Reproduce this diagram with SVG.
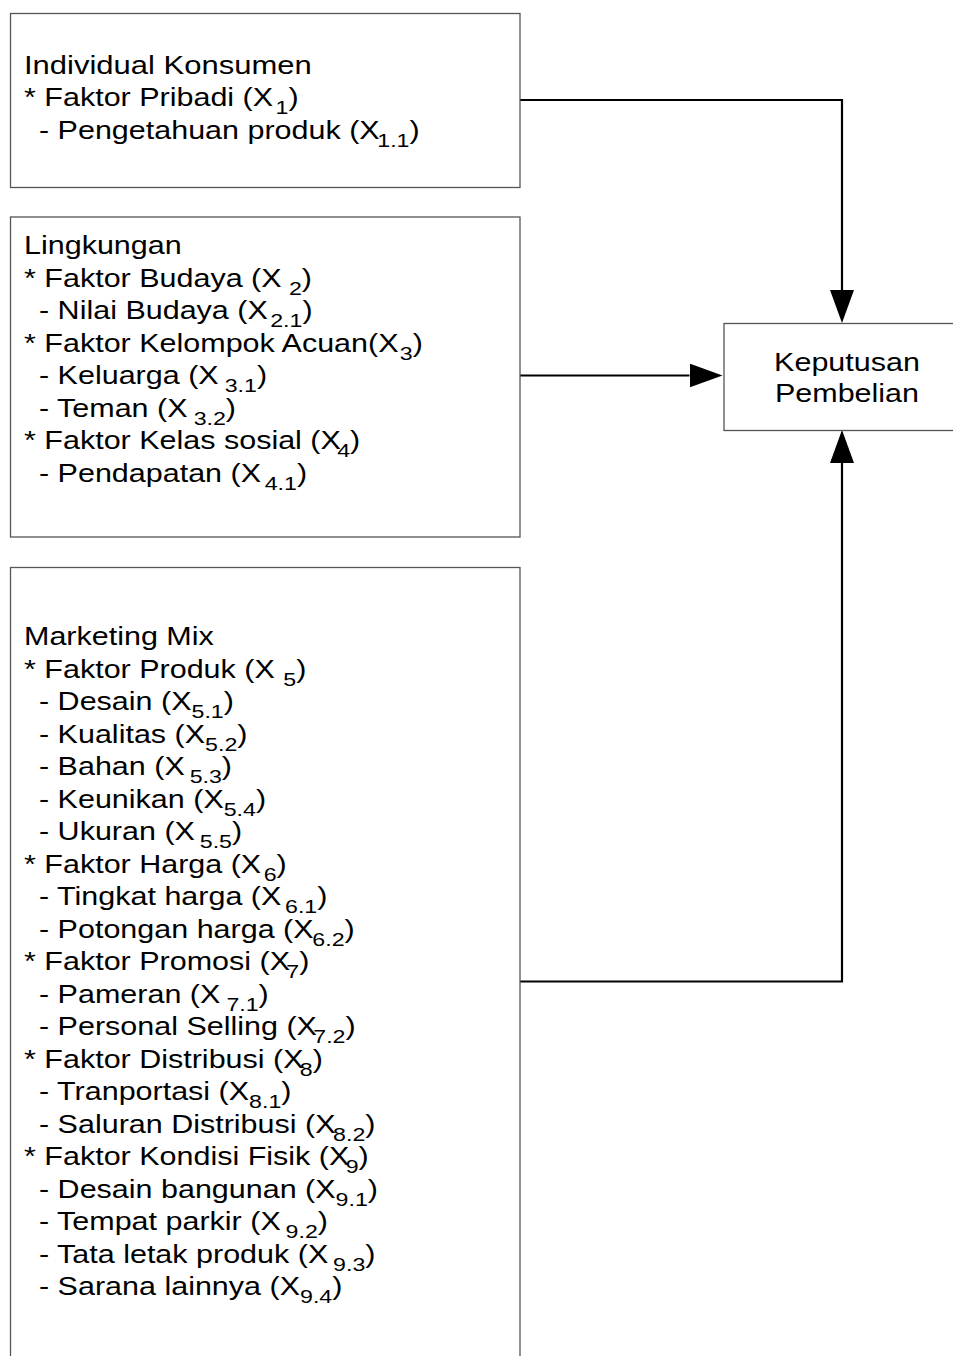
<svg xmlns="http://www.w3.org/2000/svg" width="953" height="1356" viewBox="0 0 953 1356">
<style>
.box{fill:#fff;stroke:#555;stroke-width:1.3}
.t{font-family:"Liberation Sans",Arial,sans-serif;font-size:25px;fill:#000}
.s{font-size:19px}
.c{fill:none;stroke:#000;stroke-width:2.2}
</style>
<defs>
<marker id="ah" markerUnits="userSpaceOnUse" markerWidth="34" markerHeight="24" viewBox="0 0 34 24" refX="0" refY="12" orient="auto"><path d="M0,0 L33,12 L0,24 Z" fill="#000"/></marker>
</defs>
<rect width="953" height="1356" fill="#fff"/>
<g id="connectors">
<path class="c" d="M520,100 H842 V290" marker-end="url(#ah)"/>
<path class="c" d="M520,375.5 H689.5" marker-end="url(#ah)"/>
<path class="c" d="M520,981.5 H842 V463" marker-end="url(#ah)"/>
</g>
<g id="individual">
<rect class="box" x="10.5" y="13.5" width="509.5" height="174"/>
<text class="t" transform="translate(24,73.5) scale(1.24 1)">Individual Konsumen</text>
<text class="t" transform="translate(24,106) scale(1.22 1)">* Faktor Pribadi (X<tspan class="s" dx="2" dy="8">1</tspan><tspan dy="-8">)</tspan></text>
<text class="t" transform="translate(39,138.5) scale(1.22 1)">- Pengetahuan produk (X<tspan class="s" dx="-2" dy="8">1.1</tspan><tspan dy="-8">)</tspan></text>
</g>
<g id="lingkungan">
<rect class="box" x="10.5" y="217" width="509.5" height="320"/>
<text class="t" transform="translate(24,254) scale(1.22 1)">Lingkungan</text>
<text class="t" transform="translate(24,286.5) scale(1.22 1)">* Faktor Budaya (X<tspan class="s" dx="6" dy="8">2</tspan><tspan dy="-8">)</tspan></text>
<text class="t" transform="translate(39,319) scale(1.22 1)">- Nilai Budaya (X<tspan class="s" dx="2" dy="8">2.1</tspan><tspan dy="-8">)</tspan></text>
<text class="t" transform="translate(24,351.5) scale(1.22 1)">* Faktor Kelompok Acuan(X<tspan class="s" dx="1" dy="8">3</tspan><tspan dy="-8">)</tspan></text>
<text class="t" transform="translate(39,384) scale(1.22 1)">- Keluarga (X<tspan class="s" dx="5" dy="8">3.1</tspan><tspan dy="-8">)</tspan></text>
<text class="t" transform="translate(39,416.5) scale(1.22 1)">- Teman (X<tspan class="s" dx="5" dy="8">3.2</tspan><tspan dy="-8">)</tspan></text>
<text class="t" transform="translate(24,449) scale(1.22 1)">* Faktor Kelas sosial (X<tspan class="s" dx="-3" dy="8">4</tspan><tspan dy="-8">)</tspan></text>
<text class="t" transform="translate(39,481.5) scale(1.22 1)">- Pendapatan (X<tspan class="s" dx="3" dy="8">4.1</tspan><tspan dy="-8">)</tspan></text>
</g>
<g id="marketing">
<rect class="box" x="10.5" y="567.5" width="509.5" height="820"/>
<text class="t" transform="translate(24,645) scale(1.22 1)">Marketing Mix</text>
<text class="t" transform="translate(24,677.5) scale(1.22 1)">* Faktor Produk (X<tspan class="s" dx="7" dy="8">5</tspan><tspan dy="-8">)</tspan></text>
<text class="t" transform="translate(39,710) scale(1.22 1)">- Desain (X<tspan class="s" dx="0" dy="8">5.1</tspan><tspan dy="-8">)</tspan></text>
<text class="t" transform="translate(39,742.5) scale(1.22 1)">- Kualitas (X<tspan class="s" dx="0" dy="8">5.2</tspan><tspan dy="-8">)</tspan></text>
<text class="t" transform="translate(39,775) scale(1.22 1)">- Bahan (X<tspan class="s" dx="4" dy="8">5.3</tspan><tspan dy="-8">)</tspan></text>
<text class="t" transform="translate(39,807.5) scale(1.22 1)">- Keunikan (X<tspan class="s" dx="0" dy="8">5.4</tspan><tspan dy="-8">)</tspan></text>
<text class="t" transform="translate(39,840) scale(1.22 1)">- Ukuran (X<tspan class="s" dx="4" dy="8">5.5</tspan><tspan dy="-8">)</tspan></text>
<text class="t" transform="translate(24,872.5) scale(1.22 1)">* Faktor Harga (X<tspan class="s" dx="2" dy="8">6</tspan><tspan dy="-8">)</tspan></text>
<text class="t" transform="translate(39,905) scale(1.22 1)">- Tingkat harga (X<tspan class="s" dx="3" dy="8">6.1</tspan><tspan dy="-8">)</tspan></text>
<text class="t" transform="translate(39,937.5) scale(1.22 1)">- Potongan harga (X<tspan class="s" dx="-1" dy="8">6.2</tspan><tspan dy="-8">)</tspan></text>
<text class="t" transform="translate(24,970) scale(1.22 1)">* Faktor Promosi (X<tspan class="s" dx="-3" dy="8">7</tspan><tspan dy="-8">)</tspan></text>
<text class="t" transform="translate(39,1002.5) scale(1.22 1)">- Pameran (X<tspan class="s" dx="5" dy="8">7.1</tspan><tspan dy="-8">)</tspan></text>
<text class="t" transform="translate(39,1035) scale(1.22 1)">- Personal Selling (X<tspan class="s" dx="-3" dy="8">7.2</tspan><tspan dy="-8">)</tspan></text>
<text class="t" transform="translate(24,1067.5) scale(1.22 1)">* Faktor Distribusi (X<tspan class="s" dx="-3" dy="8">8</tspan><tspan dy="-8">)</tspan></text>
<text class="t" transform="translate(39,1100) scale(1.22 1)">- Tranportasi (X<tspan class="s" dx="0" dy="8">8.1</tspan><tspan dy="-8">)</tspan></text>
<text class="t" transform="translate(39,1132.5) scale(1.22 1)">- Saluran Distribusi (X<tspan class="s" dx="-2" dy="8">8.2</tspan><tspan dy="-8">)</tspan></text>
<text class="t" transform="translate(24,1165) scale(1.22 1)">* Faktor Kondisi Fisik (X<tspan class="s" dx="-3" dy="8">9</tspan><tspan dy="-8">)</tspan></text>
<text class="t" transform="translate(39,1197.5) scale(1.22 1)">- Desain bangunan (X<tspan class="s" dx="0" dy="8">9.1</tspan><tspan dy="-8">)</tspan></text>
<text class="t" transform="translate(39,1230) scale(1.22 1)">- Tempat parkir (X<tspan class="s" dx="4" dy="8">9.2</tspan><tspan dy="-8">)</tspan></text>
<text class="t" transform="translate(39,1262.5) scale(1.22 1)">- Tata letak produk (X<tspan class="s" dx="4" dy="8">9.3</tspan><tspan dy="-8">)</tspan></text>
<text class="t" transform="translate(39,1295) scale(1.22 1)">- Sarana lainnya (X<tspan class="s" dx="0" dy="8">9.4</tspan><tspan dy="-8">)</tspan></text>
</g>
<g id="keputusan">
<rect class="box" x="724" y="323.5" width="240" height="107"/>
<text class="t" text-anchor="middle" transform="translate(847,370.5) scale(1.22 1)">Keputusan</text>
<text class="t" text-anchor="middle" transform="translate(847,401.5) scale(1.22 1)">Pembelian</text>
</g>
</svg>
